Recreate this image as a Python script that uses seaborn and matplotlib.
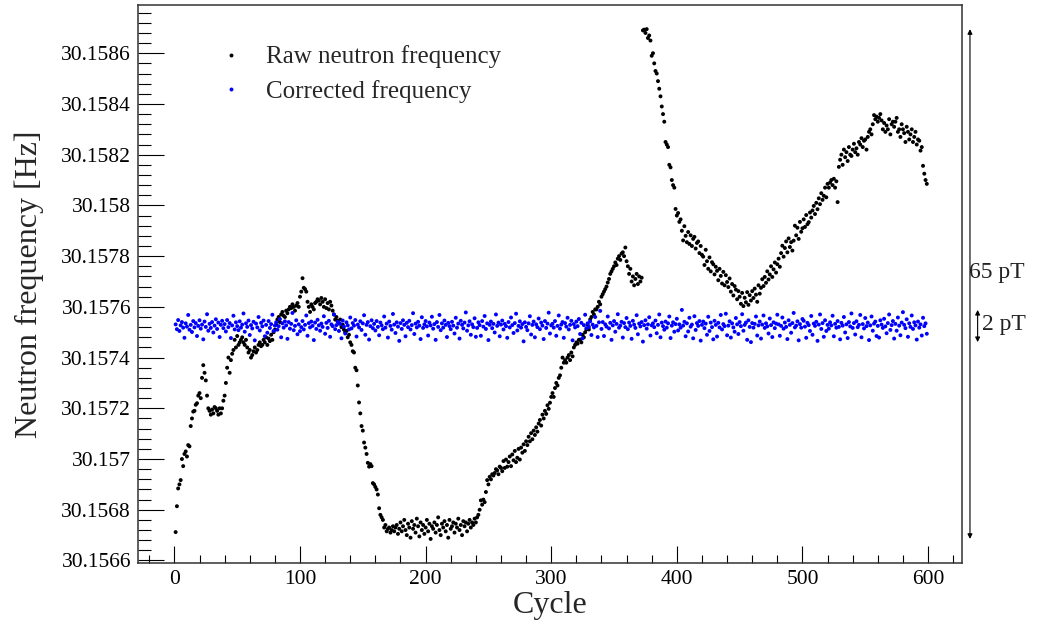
import numpy as np
import pandas as pd
import seaborn as sns
import matplotlib
matplotlib.use("Agg")
import matplotlib.pyplot as plt
from matplotlib.ticker import MultipleLocator, FuncFormatter
from matplotlib.transforms import blended_transform_factory

# frequencies stored as micro-Hz above 30.1566 Hz, one value per cycle
BASE_HZ = 30.1566

raw_uhz = [
    112, 214, 284, 300, 317, 400, 372, 420, 430, 410, 455, 450, 530, 560, 587, 590, 614, 620, 650, 660,
    640, 720, 770, 740, 710, 650, 600, 590, 575, 595, 580, 605, 600, 590, 575, 600, 580, 600, 630, 650,
    700, 760, 800, 740, 790, 815, 830, 870, 840, 885, 850, 860, 870, 880, 860, 850, 870, 840, 820, 830,
    800, 810, 825, 840, 820, 830, 850, 860, 845, 850, 870, 860, 880, 850, 875, 865, 890, 870, 900, 910,
    930, 950, 960, 940, 970, 980, 965, 960, 985, 975, 990, 1000, 995, 1010, 1000, 985, 1005, 1015, 1000, 1040,
    1060, 1113, 1075, 1070, 1060, 1020, 1000, 980, 1010, 1000, 990, 1015, 1020, 1030, 1025, 1010, 1035, 1020, 1000, 1030,
    995, 1015, 990, 1020, 1005, 985, 970, 950, 960, 945, 935, 950, 920, 930, 910, 900, 905, 880, 890, 860,
    850, 825, 820, 760, 750, 690, 623, 580, 530, 512, 465, 445, 420, 385, 370, 380, 372, 305, 300, 290,
    280, 260, 206, 180, 170, 160, 130, 140, 115, 125, 130, 110, 120, 135, 115, 130, 140, 105, 125, 150,
    115, 135, 160, 120, 100, 145, 130, 90, 155, 125, 140, 110, 165, 135, 95, 150, 120, 140, 105, 130,
    160, 115, 145, 85, 135, 125, 150, 110, 140, 170, 120, 100, 145, 130, 155, 115, 140, 90, 160, 125,
    135, 150, 110, 145, 130, 165, 120, 140, 100, 155, 135, 150, 115, 145, 160, 130, 150, 140, 165, 150,
    170, 180, 200, 237, 220, 240, 230, 270, 317, 300, 330, 320, 340, 335, 345, 360, 355, 340, 370, 365,
    352, 392, 365, 398, 370, 388, 410, 372, 418, 395, 432, 388, 405, 440, 398, 445, 425, 458, 432, 470,
    455, 488, 470, 502, 478, 512, 495, 525, 508, 540, 554, 532, 575, 560, 590, 578, 612, 598, 622, 645,
    660, 645, 680, 700, 690, 720, 730, 760, 800, 780, 790, 780, 800, 810, 790, 820, 805, 840, 850, 860,
    855, 870, 871, 860, 890, 880, 900, 911, 930, 911, 950, 960, 980, 970, 990, 990, 1000, 1020, 1010, 1040,
    1050, 1060, 1070, 1080, 1096, 1110, 1130, 1140, 1150, 1160, 1175, 1165, 1190, 1200, 1185, 1210, 1215, 1200, 1234, 1180,
    1160, 1130, 1150, 1100, 1120, 1085, 1110, 1130, 1090, 1120, 1100, 1115, 2090, 2093, 2080, 2095, 2060, 2070, 2050, 1990,
    2000, 1960, 1930, 1920, 1890, 1860, 1830, 1790, 1760, 1730, 1650, 1640, 1630, 1560, 1550, 1500, 1480, 1470, 1386, 1360,
    1370, 1335, 1345, 1300, 1262, 1318, 1280, 1255, 1295, 1248, 1282, 1240, 1268, 1276, 1230, 1252, 1258, 1212, 1240, 1205,
    1198, 1165, 1225, 1180, 1150, 1195, 1140, 1176, 1168, 1128, 1158, 1142, 1105, 1150, 1122, 1092, 1138, 1085, 1125, 1098,
    1078, 1112, 1060, 1090, 1045, 1082, 1068, 1030, 1062, 1040, 1012, 1055, 1003, 1036, 1018, 1058, 1008, 1046, 1025, 1062,
    1035, 1072, 1048, 1020, 1085, 1052, 1075, 1109, 1082, 1118, 1095, 1140, 1108, 1128, 1160, 1118, 1148, 1175, 1135, 1168,
    1190, 1158, 1212, 1241, 1198, 1232, 1258, 1215, 1270, 1236, 1255, 1222, 1261, 1320, 1282, 1312, 1268, 1335, 1296, 1310,
    1345, 1315, 1362, 1326, 1334, 1372, 1352, 1380, 1398, 1366, 1410, 1385, 1428, 1405, 1448, 1422, 1438, 1470, 1432, 1485,
    1470, 1490, 1500, 1480, 1505, 1470, 1495, 1413, 1552, 1580, 1600, 1560, 1620, 1590, 1610, 1575, 1630, 1600, 1595, 1620,
    1643, 1610, 1625, 1600, 1650, 1640, 1665, 1630, 1655, 1660, 1620, 1670, 1690, 1700, 1680, 1720, 1756, 1740, 1750, 1730,
    1745, 1760, 1735, 1700, 1725, 1690, 1715, 1700, 1740, 1680, 1720, 1730, 1710, 1730, 1745, 1690, 1700, 1670, 1720, 1700,
    1685, 1650, 1710, 1690, 1660, 1680, 1700, 1650, 1670, 1690, 1640, 1660, 1655, 1616, 1630, 1556, 1525, 1500, 1485,
]

corr_uhz = [
    931, 912, 948, 905, 927, 940, 918, 878, 935, 922, 968, 910, 929, 901, 944, 919, 936, 885, 925, 947,
    914, 930, 872, 942, 921, 971, 906, 933, 917, 940, 899, 926, 951, 913, 938, 881, 929, 945, 916, 932,
    903, 948, 920, 936, 877, 927, 965, 911, 939, 924, 908, 943, 918, 930, 974, 902, 935, 921, 946, 889,
    928, 915, 941, 868, 934, 919, 960, 907, 937, 923, 946, 884, 929, 898, 944, 917, 932, 969, 905, 926,
    939, 910, 924, 952, 880, 935, 918, 943, 927, 874, 940, 914, 933, 976, 908, 925, 947, 892, 931, 904,
    920, 944, 911, 929, 966, 886, 936, 919, 942, 925, 869, 938, 913, 949, 927, 906, 934, 921, 963, 894,
    937, 917, 945, 882, 931, 924, 970, 912, 928, 941, 905, 933, 876, 946, 922, 895, 939, 927, 911, 958,
    915, 936, 926, 948, 883, 930, 919, 943, 909, 935, 967, 890, 929, 940, 871, 924, 947, 916, 933, 907,
    944, 921, 888, 938, 927, 912, 962, 918, 934, 879, 942, 925, 910, 972, 930, 897, 939, 922, 866, 936,
    913, 947, 929, 884, 937, 920, 945, 911, 928, 975, 893, 934, 919, 941, 926, 873, 959, 917, 931, 944,
    923, 887, 938, 927, 961, 914, 932, 870, 940, 921, 968, 908, 935, 918, 946, 929, 881, 937, 924, 912,
    941, 926, 895, 957, 918, 934, 875, 945, 929, 915, 938, 978, 906, 927, 943, 890, 931, 920, 955, 882,
    917, 939, 928, 886, 944, 922, 964, 913, 935, 869, 929, 942, 916, 933, 899, 970, 925, 938, 884, 930,
    946, 911, 933, 924, 878, 940, 919, 958, 928, 897, 936, 973, 907, 925, 943, 918, 932, 864, 939, 921,
    908, 935, 963, 891, 929, 942, 880, 931, 920, 954, 912, 938, 926, 873, 944, 917, 934, 977, 895, 927,
    933, 918, 944, 886, 925, 966, 914, 930, 940, 878, 936, 922, 957, 911, 929, 945, 868, 932, 919, 942,
    924, 952, 893, 937, 876, 928, 969, 916, 935, 921, 943, 889, 930, 919, 960, 925, 881, 939, 984, 913,
    940, 885, 931, 922, 962, 915, 937, 870, 927, 944, 902, 933, 971, 918, 926, 941, 879, 936, 920, 956,
    912, 938, 925, 874, 945, 930, 917, 967, 892, 934, 923, 940, 863, 928, 947, 914, 931, 959, 887, 927,
    935, 920, 946, 896, 929, 970, 880, 938, 924, 910, 942, 918, 935, 962, 877, 926, 939, 902, 932, 953,
    907, 931, 918, 988, 926, 941, 884, 935, 903, 957, 922, 930, 876, 963, 909, 936, 925, 944, 867, 929,
    942, 916, 934, 890, 961, 905, 938, 920, 872, 945, 929, 883, 937, 919, 968, 911, 932, 924, 973, 888,
    926, 943, 879, 935, 919, 902, 956, 931, 893, 940, 924, 971, 906, 929, 938, 870, 947, 921, 861, 936,
    918, 933, 962, 887, 927, 942, 875, 930, 966, 917, 935, 923, 895, 954, 928, 881, 939, 916, 934, 969,
    931, 886, 925, 958, 914, 938, 921, 873, 947, 929, 898, 936, 976, 919, 926, 943, 868, 932, 918, 952,
    945, 922, 878, 937, 928, 905, 964, 890, 934, 925, 941, 866, 930, 970, 913, 936, 882, 947, 905, 929,
    914, 939, 927, 965, 884, 933, 918, 944, 921, 872, 937, 926, 960, 899, 931, 877, 940, 923, 974, 917,
    936, 891, 943, 920, 929, 968, 880, 932, 915, 956, 924, 938, 869, 927, 962, 906, 934, 942, 885, 925,
    879, 947, 930, 917, 953, 923, 896, 936, 970, 909, 928, 944, 875, 933, 906, 958, 926, 888, 938, 979,
    929, 916, 951, 882, 935, 921, 966, 913, 939, 927, 871, 942, 918, 931, 887, 957, 924, 935, 894,
]

raw_label = "Raw neutron frequency"
corr_label = "Corrected frequency"
big_label = "65 pT"
small_label = "2 pT"

cycles = np.arange(1, len(raw_uhz) + 1)
df = pd.DataFrame({
    "Cycle": np.concatenate([cycles, cycles]),
    "freq": np.concatenate([BASE_HZ + np.array(raw_uhz) * 1e-6,
                            BASE_HZ + np.array(corr_uhz) * 1e-6]),
    "series": [raw_label] * len(raw_uhz) + [corr_label] * len(corr_uhz),
})

sns.set_style("ticks")
plt.rcParams["font.family"] = ["Liberation Serif", "DejaVu Serif"]

fig = plt.figure(figsize=(10.42, 6.30), dpi=100)
ax = fig.add_axes([0.1324, 0.1063, 0.7908, 0.8857])

sns.scatterplot(data=df, x="Cycle", y="freq", hue="series",
                palette={raw_label: "black", corr_label: "#0000ff"},
                s=8, linewidth=0, marker="o", ax=ax, legend=True)

ax.set_xlim(-29, 627)
ax.set_ylim(30.15659, 30.15879)

ax.xaxis.set_major_locator(MultipleLocator(100))
ax.xaxis.set_minor_locator(MultipleLocator(20))
ax.yaxis.set_major_locator(MultipleLocator(0.0002))
ax.yaxis.set_minor_locator(MultipleLocator(0.00004))
ax.yaxis.set_major_formatter(FuncFormatter(lambda v, p: f"{v:.4f}".rstrip("0").rstrip(".")))

ax.tick_params(axis="both", which="both", direction="in", top=False, right=False,
               labelsize=15.5, colors="black")
ax.tick_params(axis="x", which="major", length=12, width=0.8, pad=5)
ax.tick_params(axis="x", which="minor", length=6, width=0.8)
ax.tick_params(axis="y", which="major", length=19, width=0.8, pad=5)
ax.tick_params(axis="y", which="minor", length=9.5, width=0.8)

for sp in ax.spines.values():
    sp.set_color("#333333")
    sp.set_linewidth(1.1)

ax.set_xlabel("Cycle", fontsize=23)
ax.set_ylabel("Neutron frequency [Hz]", fontsize=23)
ax.yaxis.set_label_coords(-0.114, 0.5)
ax.xaxis.set_label_coords(0.5, -0.05)

leg = ax.legend(loc="upper left", bbox_to_anchor=(0.071, 0.968), frameon=False,
                fontsize=18, handlelength=1.0, handletextpad=0.9, labelspacing=0.45,
                borderpad=0.4, markerscale=1.0)

# arrows outside the frame showing the spread of each series
trans = blended_transform_factory(ax.transAxes, ax.transData)
raw_hz = BASE_HZ + np.array(raw_uhz) * 1e-6
corr_hz = BASE_HZ + np.array(corr_uhz) * 1e-6
ax.annotate("", xy=(1.0097, raw_hz.max()), xytext=(1.0097, raw_hz.min()),
            xycoords=trans, textcoords=trans, annotation_clip=False,
            arrowprops=dict(arrowstyle="<|-|>", lw=0.8, color="black",
                            mutation_scale=7, shrinkA=0, shrinkB=0))
ax.annotate("", xy=(1.019, corr_hz.max()), xytext=(1.019, corr_hz.min()),
            xycoords=trans, textcoords=trans, annotation_clip=False,
            arrowprops=dict(arrowstyle="<|-|>", lw=0.8, color="black",
                            mutation_scale=7, shrinkA=0, shrinkB=0))
ax.text(1.0085, 0.52, big_label, transform=ax.transAxes, fontsize=17,
        ha="left", va="center", color="#222222")
ax.text(1.0245, 0.428, small_label, transform=ax.transAxes, fontsize=17,
        ha="left", va="center", color="#222222")

fig.savefig("out.png", dpi=100)
